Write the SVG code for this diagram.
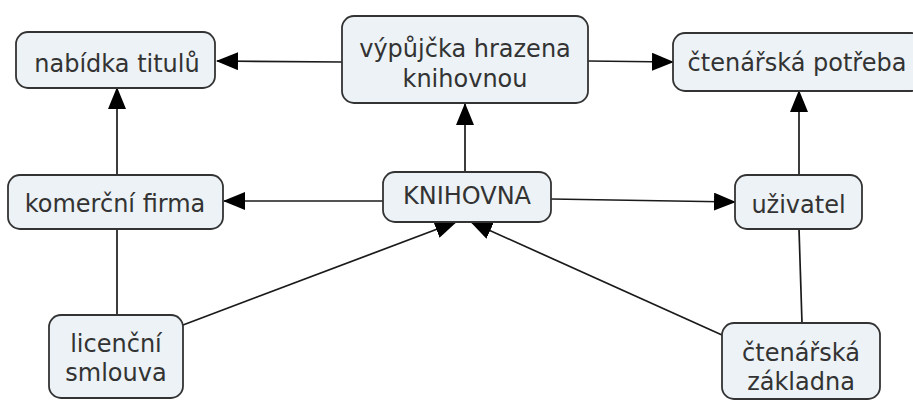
<svg xmlns="http://www.w3.org/2000/svg" width="913" height="402" viewBox="0 0 913 402">
  <style>
    .box { fill: #ecf2f5; stroke: #333333; stroke-width: 1.8; }
    .lbl { font-family: "DejaVu Sans", Verdana, sans-serif; font-size: 24px; fill: #333333; text-anchor: middle; }
    .edge { fill: none; stroke: #1a1a1a; stroke-width: 1.7; }
  </style>
  <defs>
    <marker id="arrow" markerUnits="userSpaceOnUse" markerWidth="22" markerHeight="18" viewBox="0 0 22 18" refX="21" refY="9" orient="auto">
      <path d="M0,0 L22,9 L0,18 Z" fill="#000000"/>
    </marker>
  </defs>

  <g id="connectors">
    <path class="edge" d="M342,62 L217,61" marker-end="url(#arrow)"/>
    <path class="edge" d="M588,61 L673,62" marker-end="url(#arrow)"/>
    <path class="edge" d="M465,172 L465,104" marker-end="url(#arrow)"/>
    <path class="edge" d="M117,175 L117,88" marker-end="url(#arrow)"/>
    <path class="edge" d="M383,201 L224,201" marker-end="url(#arrow)"/>
    <path class="edge" d="M551,199 L735,202" marker-end="url(#arrow)"/>
    <path class="edge" d="M799,175 L799,91" marker-end="url(#arrow)"/>
    <path class="edge" d="M117,229 L117,315"/>
    <path class="edge" d="M183,325 L456,222" marker-end="url(#arrow)"/>
    <path class="edge" d="M722,335 L471,222" marker-end="url(#arrow)"/>
    <path class="edge" d="M799,229 L802,323"/>
  </g>

  <g id="nabidka-titulu">
    <rect class="box" x="16" y="32" width="199" height="56" rx="12"/>
    <text class="lbl" x="117" y="72">nabídka titulů</text>
  </g>
  <g id="vypujcka">
    <rect class="box" x="342" y="16" width="246" height="87" rx="12"/>
    <text class="lbl" x="465" y="57">výpůjčka hrazena</text>
    <text class="lbl" x="465" y="87">knihovnou</text>
  </g>
  <g id="ctenarska-potreba">
    <rect class="box" x="673" y="33" width="250" height="58" rx="12"/>
    <text class="lbl" x="797" y="71">čtenářská potřeba</text>
  </g>
  <g id="komercni-firma">
    <rect class="box" x="8" y="175" width="215" height="54" rx="12"/>
    <text class="lbl" x="115" y="212">komerční firma</text>
  </g>
  <g id="knihovna">
    <rect class="box" x="383" y="172" width="168" height="50" rx="12"/>
    <text class="lbl" x="467" y="204">KNIHOVNA</text>
  </g>
  <g id="uzivatel">
    <rect class="box" x="735" y="175" width="127" height="54" rx="12"/>
    <text class="lbl" x="798.5" y="213">uživatel</text>
  </g>
  <g id="licencni-smlouva">
    <rect class="box" x="49" y="315" width="134" height="83" rx="12"/>
    <text class="lbl" x="116" y="352">licenční</text>
    <text class="lbl" x="116" y="381">smlouva</text>
  </g>
  <g id="ctenarska-zakladna">
    <rect class="box" x="722" y="323" width="158" height="76" rx="12"/>
    <text class="lbl" x="801" y="361">čtenářská</text>
    <text class="lbl" x="801" y="390">základna</text>
  </g>
</svg>
